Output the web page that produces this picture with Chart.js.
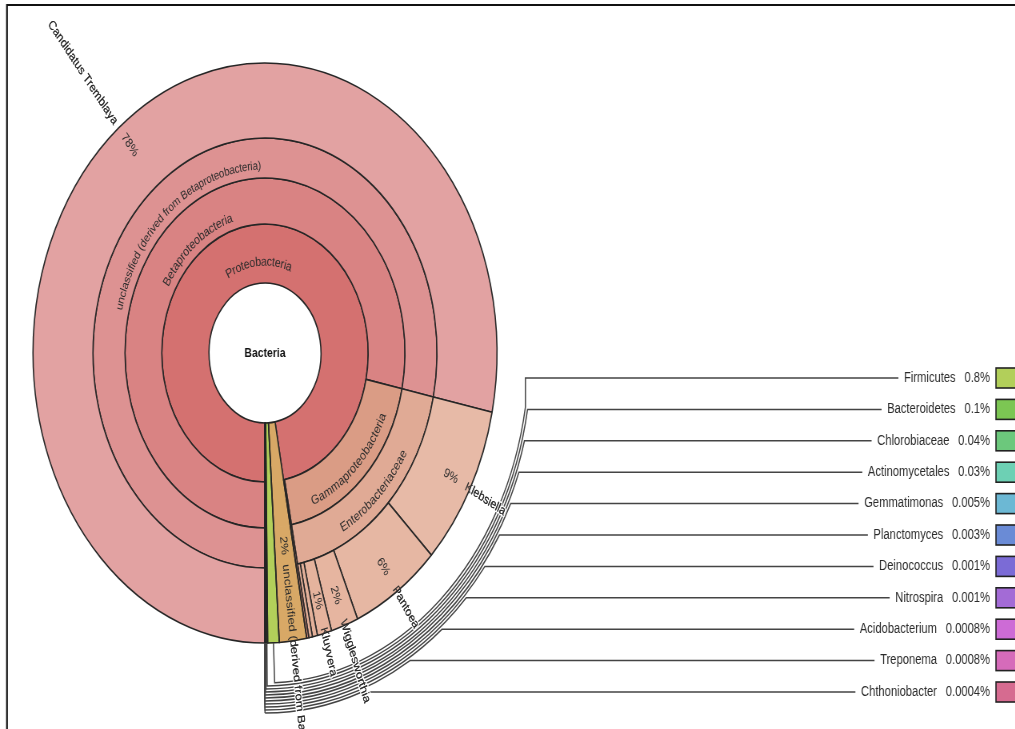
<!DOCTYPE html>
<html>
<head>
<meta charset="utf-8">
<title>Krona – Bacteria</title>
<script src="https://cdn.jsdelivr.net/npm/chart.js@4.4.1/dist/chart.umd.min.js"></script>
<style>
  html, body { margin: 0; padding: 0; overflow: hidden; background: #fff; }
  /* the chart is laid out on a 1269px wide canvas and shown at 80% width */
  #stage { width: 1269px; height: 729px; transform: scaleX(0.8); transform-origin: 0 0; }
  canvas { display: block; }
</style>
</head>
<body>
<div id="stage"><canvas id="krona" width="1269" height="729" style="width:1269px;height:729px"></canvas></div>
<script>
// ---- taxonomy (children listed after their parent, in drawing order) ----
const taxonNames = [
  'Proteobacteria',
  'Betaproteobacteria',
  'unclassified (derived from Betaproteobacteria)',
  'Candidatus Tremblaya',
  'Gammaproteobacteria',
  'Enterobacteriaceae',
  'Klebsiella',
  'Pantoea',
  'Wigglesworthia',
  'Kluyvera',
  'other Enterobacteriaceae',
  'unclassified (derived from Enterobacteriaceae)',
  'unclassified (derived from Proteobacteria)',
  'unclassified (derived from Bacteria)',
  'Firmicutes',
  'Bacteroidetes',
  'Chlorobiaceae',
  'Actinomycetales',
  'Gemmatimonas',
  'Planctomyces',
  'Deinococcus',
  'Nitrospira',
  'Acidobacterium',
  'Treponema',
  'Chthoniobacter'
];
const taxonParents = [
  null,
  'Proteobacteria',
  'Betaproteobacteria',
  'unclassified (derived from Betaproteobacteria)',
  'Proteobacteria',
  'Gammaproteobacteria',
  'Enterobacteriaceae',
  'Enterobacteriaceae',
  'Enterobacteriaceae',
  'Enterobacteriaceae',
  'Enterobacteriaceae',
  'Enterobacteriaceae',
  'Proteobacteria',
  null, null, null, null, null, null, null, null, null, null, null, null
];
// share of all reads (%) for every leaf; inner nodes are the sum of their children
const leafPercent = [
  null, null, null, 78.3,
  null, null, 9.0, 6.2, 1.9, 1.0, 0.35, 0.25,
  0.15,
  1.9, 0.8, 0.1, 0.04, 0.03, 0.005, 0.003, 0.001, 0.001, 0.0008, 0.0008, 0.0004
];
// taxa listed in the key on the right, top to bottom
const keyTaxa = ['Firmicutes', 'Bacteroidetes', 'Chlorobiaceae', 'Actinomycetales', 'Gemmatimonas',
  'Planctomyces', 'Deinococcus', 'Nitrospira', 'Acidobacterium', 'Treponema', 'Chthoniobacter'];

// ---- styling ----
const taxonColors = {
  'Proteobacteria': '#d47170',
  'Betaproteobacteria': '#d98383',
  'unclassified (derived from Betaproteobacteria)': '#dd9292',
  'Candidatus Tremblaya': '#e2a2a2',
  'Gammaproteobacteria': '#da9c85',
  'Enterobacteriaceae': '#e0aa95',
  'Klebsiella': '#e7baa7',
  'Pantoea': '#e6b7a3',
  'Wigglesworthia': '#e6b5a0',
  'Kluyvera': '#e5b39d',
  'other Enterobacteriaceae': '#e4b19a',
  'unclassified (derived from Enterobacteriaceae)': '#e3af98',
  'unclassified (derived from Proteobacteria)': '#d9907c',
  'unclassified (derived from Bacteria)': '#d8a866',
  'Firmicutes': '#b2cf5a',
  'Bacteroidetes': '#7cc653',
  'Chlorobiaceae': '#6cc87c',
  'Actinomycetales': '#6dd0b4',
  'Gemmatimonas': '#6cb8d4',
  'Planctomyces': '#6a8bd6',
  'Deinococcus': '#7b6bd6',
  'Nitrospira': '#a36bd6',
  'Acidobacterium': '#cd6bd6',
  'Treponema': '#d66bba',
  'Chthoniobacter': '#d66b90'
};
const FONT = '"Liberation Sans", Arial, Helvetica, sans-serif';
const TEXT = '#2b2b2b';
const LINE = '#262626';
const RING_WEIGHTS = [59, 46, 40, 75];      // innermost ring first
const HOLE = 70, OUTER = 290;
// tangential labels of inner nodes: radius and font size
const ringLabels = {
  'Proteobacteria': [91, 13],
  'Betaproteobacteria': [141, 13],
  'unclassified (derived from Betaproteobacteria)': [187, 12],
  'Gammaproteobacteria': [160, 13],
  'Enterobacteriaceae': [200, 13]
};
// radial labels of leaves: radius of the percentage, radius where the name starts
const leafLabels = {
  'Candidatus Tremblaya': [268, 296],
  'Klebsiella': [263, 284],
  'Pantoea': [260, 285],
  'Wigglesworthia': [258, 284],
  'Kluyvera': [256, 284],
  'unclassified (derived from Bacteria)': [194, 213]
};

// ---- tree ----
const nodes = taxonNames.map((name, i) => ({ name, parent: taxonParents[i], pct: leafPercent[i], children: [] }));
const byName = Object.fromEntries(nodes.map(n => [n.name, n]));
const roots = [];
nodes.forEach(n => (n.parent ? byName[n.parent].children.push(n) : roots.push(n)));
const sumOf = n => (n.children.length ? n.children.reduce((s, c) => s + sumOf(c), 0) : n.pct);
nodes.forEach(n => { n.value = sumOf(n); });
const setDepth = (n, d) => { n.depth = d; n.children.forEach(c => setDepth(c, d + 1)); };
roots.forEach(r => setDepth(r, 1));
const RINGS = RING_WEIGHTS.length;
const isShallowLeaf = n => !n.children.length && n.depth < RINGS;

// each ring lists the nodes of its depth; leaves of lower depth run on to the outer edge
const rings = [];
for (let d = 1; d <= RINGS; d++) {
  const segs = [];
  const walk = n => {
    if (n.depth === d) segs.push(n);
    else if (!n.children.length) segs.push(n);
    else n.children.forEach(walk);
  };
  roots.forEach(walk);
  rings.push(segs);
}

const datasets = rings.map((segs, i) => ({
  label: 'depth ' + (i + 1),
  data: segs.map(n => n.value),
  backgroundColor: segs.map(n => taxonColors[n.name]),
  borderColor: segs.map(n => (isShallowLeaf(n) ? taxonColors[n.name] : LINE)),
  borderWidth: segs.map(n => (isShallowLeaf(n) ? 1 : 1.6)),
  weight: RING_WEIGHTS[i]
})).reverse();   // Chart.js draws the first dataset as the outer ring

function arcOf(chart, node) {
  const ring = node.depth - 1;
  const idx = rings[ring].indexOf(node);
  return chart.getDatasetMeta(RINGS - 1 - ring).data[idx];
}

function curvedText(ctx, text, cx, cy, r, mid) {
  const lower = Math.sin(mid) > 0;
  const span = ctx.measureText(text).width / r;
  let a = lower ? mid + span / 2 : mid - span / 2;
  ctx.textAlign = 'center';
  ctx.textBaseline = 'middle';
  for (const ch of text) {
    const cw = ctx.measureText(ch).width;
    const ang = lower ? a - cw / 2 / r : a + cw / 2 / r;
    ctx.save();
    ctx.translate(cx + r * Math.cos(ang), cy + r * Math.sin(ang));
    ctx.rotate(lower ? ang - Math.PI / 2 : ang + Math.PI / 2);
    ctx.fillText(ch, 0, 0);
    ctx.restore();
    a = lower ? a - cw / r : a + cw / r;
  }
}

function radialText(ctx, text, cx, cy, r, ang, centred, halo) {
  const right = Math.cos(ang) >= 0;
  ctx.save();
  ctx.translate(cx, cy);
  ctx.rotate(right ? ang : ang + Math.PI);
  ctx.textBaseline = 'middle';
  ctx.textAlign = centred ? 'center' : (right ? 'left' : 'right');
  const x = right ? r : -r;
  if (halo) {
    ctx.strokeStyle = '#fff';
    ctx.lineWidth = 3;
    ctx.lineJoin = 'round';
    ctx.strokeText(text, x, 0);
  }
  ctx.fillText(text, x, 0);
  ctx.restore();
}

const kronaOverlay = {
  id: 'kronaOverlay',
  afterDatasetsDraw(chart) {
    const ctx = chart.ctx;
    const outerArc = chart.getDatasetMeta(0).data[0];
    const cx = outerArc.x, cy = outerArc.y, R = outerArc.outerRadius;
    const W = chart.width, H = chart.height;
    ctx.save();

    // outlines of leaves that span several rings
    ctx.strokeStyle = LINE;
    ctx.lineWidth = 1.6;
    nodes.filter(isShallowLeaf).forEach(n => {
      const a = arcOf(chart, n);
      ctx.beginPath();
      ctx.arc(cx, cy, a.innerRadius, a.startAngle, a.endAngle);
      ctx.arc(cx, cy, R, a.endAngle, a.startAngle, true);
      ctx.closePath();
      ctx.stroke();
    });

    // key: leader lines, labels and colour boxes
    const keyRight = 1237.5, boxX = 1245, boxW = 25, boxH = 20;
    const phiMin = Math.asin(54 / 330);
    keyTaxa.forEach((name, k) => {
      const node = byName[name];
      const a = arcOf(chart, node);
      let th = (a.startAngle + a.endAngle) / 2;
      th = Math.atan2(Math.sin(th), Math.cos(th));
      const r = 330 + 3 * k;
      const yk = 378 + 31.4 * k;
      const phi = Math.max(Math.asin(Math.min(1, (yk - cy) / r)), phiMin);

      ctx.font = '14px ' + FONT;
      const pctText = node.value + '%';
      const pctW = ctx.measureText(pctText).width;
      const nameW = ctx.measureText(name).width;
      const nameRight = keyRight - pctW - 11;
      const lineEnd = nameRight - nameW - 7;

      ctx.strokeStyle = '#444';
      ctx.lineWidth = 1.5;
      ctx.beginPath();
      ctx.moveTo(cx + R * Math.cos(th), cy + R * Math.sin(th));
      ctx.lineTo(cx + r * Math.cos(th), cy + r * Math.sin(th));
      ctx.arc(cx, cy, r, th, phi, true);
      ctx.lineTo(cx + r * Math.cos(phi), yk);
      ctx.lineTo(lineEnd, yk);
      ctx.stroke();

      ctx.fillStyle = TEXT;
      ctx.textBaseline = 'middle';
      ctx.textAlign = 'right';
      ctx.fillText(pctText, keyRight, yk);
      ctx.fillText(name, nameRight, yk);

      ctx.fillStyle = taxonColors[name];
      ctx.fillRect(boxX, yk - boxH / 2, boxW, boxH);
      ctx.strokeStyle = '#222';
      ctx.lineWidth = 1.6;
      ctx.strokeRect(boxX, yk - boxH / 2, boxW, boxH);
    });

    // tangential labels of inner nodes
    ctx.fillStyle = TEXT;
    Object.entries(ringLabels).forEach(([name, [r, size]]) => {
      const a = arcOf(chart, byName[name]);
      ctx.font = size + 'px ' + FONT;
      curvedText(ctx, name, cx, cy, r, (a.startAngle + a.endAngle) / 2);
    });

    // radial labels of leaves: percentage inside, name running outwards
    ctx.font = '13px ' + FONT;
    Object.entries(leafLabels).forEach(([name, [rPct, rName]]) => {
      const node = byName[name];
      const a = arcOf(chart, node);
      const mid = (a.startAngle + a.endAngle) / 2;
      ctx.fillStyle = TEXT;
      radialText(ctx, Math.round(node.value) + '%', cx, cy, rPct, mid, true, false);
      // white halo only where the name leaves the chart
      ctx.save();
      ctx.beginPath();
      ctx.rect(0, 0, W, H);
      ctx.arc(cx, cy, R + 1, 0, Math.PI * 2, true);
      ctx.clip('evenodd');
      ctx.fillStyle = TEXT;
      radialText(ctx, name, cx, cy, rName, mid, false, true);
      ctx.restore();
      ctx.fillStyle = TEXT;
      radialText(ctx, name, cx, cy, rName, mid, false, false);
    });

    // root in the centre
    ctx.font = 'bold 13px ' + FONT;
    ctx.fillStyle = '#111';
    ctx.textAlign = 'center';
    ctx.textBaseline = 'middle';
    ctx.fillText('Bacteria', cx, cy);

    // frame
    ctx.strokeStyle = '#111';
    ctx.lineWidth = 2.2;
    ctx.beginPath();
    ctx.moveTo(8.75, H);
    ctx.lineTo(8.75, 5);
    ctx.lineTo(W, 5);
    ctx.stroke();

    ctx.restore();
  }
};

new Chart(document.getElementById('krona'), {
  type: 'doughnut',
  data: { labels: rings[0].map(n => n.name), datasets },
  options: {
    responsive: false,
    devicePixelRatio: 1,
    animation: false,
    events: [],
    rotation: 180,
    circumference: 360,
    radius: OUTER,
    cutout: (HOLE / OUTER * 100) + '%',
    layout: { padding: { left: 0, top: 0, right: 1269 - 662.5, bottom: 729 - 706 } },
    plugins: { legend: { display: false }, tooltip: { enabled: false }, title: { display: false } }
  },
  plugins: [kronaOverlay]
});
</script>
</body>
</html>
